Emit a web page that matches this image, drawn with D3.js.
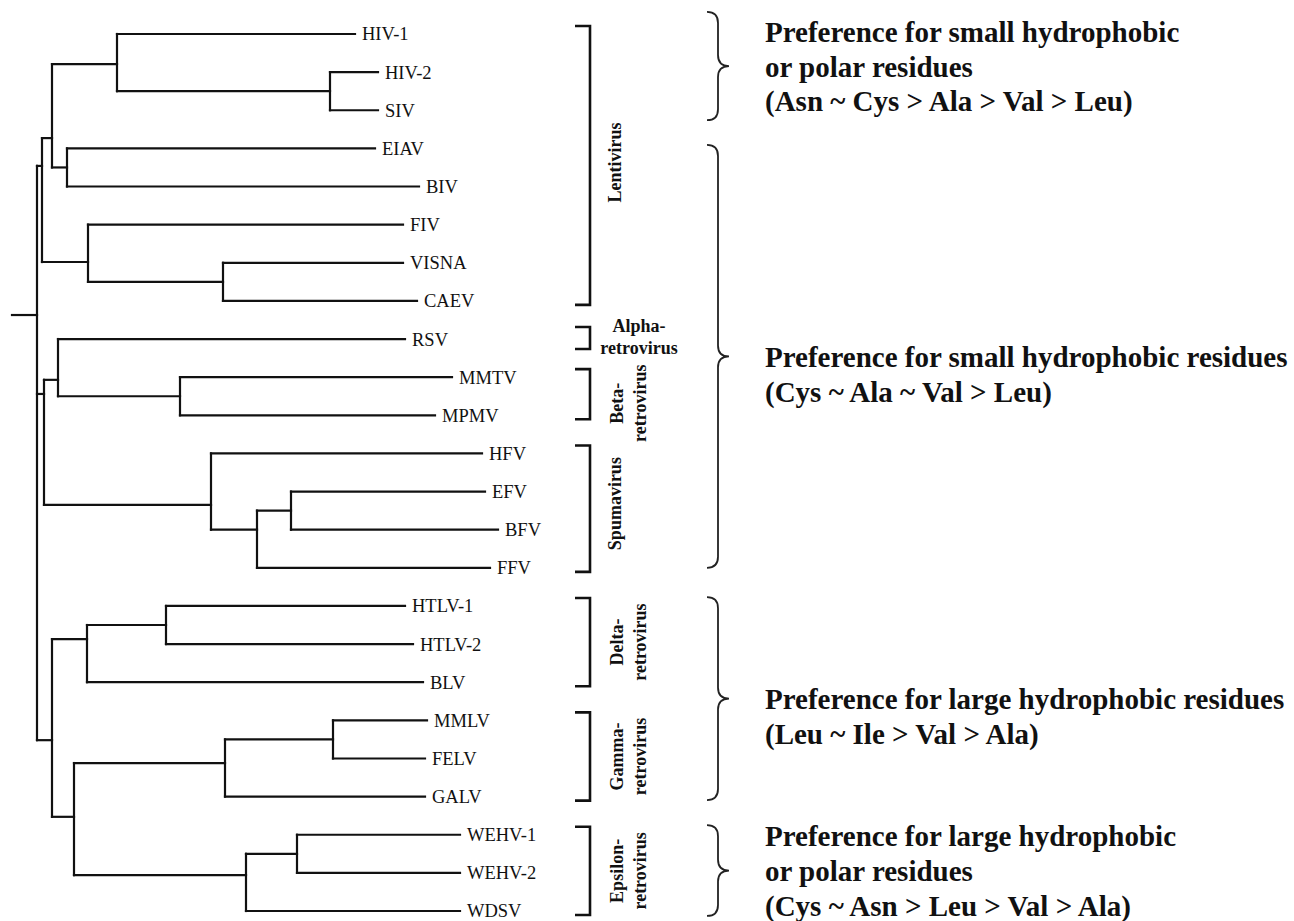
<!DOCTYPE html>
<html>
<head>
<meta charset="utf-8">
<script src="https://cdn.jsdelivr.net/npm/d3@7"></script>
<style>
  body { margin: 0; background: #fff; }
  svg { display: block; }
  .branch { stroke: #111; stroke-width: 2.2; stroke-linecap: square; fill: none; }
  .bracket { stroke: #111; stroke-width: 2.6; fill: none; }
  .brace { stroke: #222; stroke-width: 1.8; fill: none; }
  .leaf { font-family: "Liberation Serif", "Times New Roman", serif; font-size: 18.5px; fill: #111; }
  .clade { font-family: "Liberation Serif", "Times New Roman", serif; font-size: 18px; font-weight: bold; fill: #111; }
  .pref { font-family: "Liberation Serif", "Times New Roman", serif; font-size: 29px; font-weight: bold; fill: #111; }
</style>
</head>
<body>
<svg id="tree"></svg>
<script>
//
// TREE DATA
//

// leaves top to bottom, with tip distance from root
var leafNames = ["HIV-1", "HIV-2", "SIV", "EIAV", "BIV", "FIV", "VISNA", "CAEV",
                 "RSV", "MMTV", "MPMV", "HFV", "EFV", "BFV", "FFV",
                 "HTLV-1", "HTLV-2", "BLV", "MMLV", "FELV", "GALV",
                 "WEHV-1", "WEHV-2", "WDSV"];
var leafParent = ["B", "A", "A", "C", "C", "F", "E", "E",
                  "H", "I", "I", "J", "L", "L", "K",
                  "S", "S", "P", "V", "V", "T",
                  "W", "W", "U"];
var leafDist = [31.8, 34.1, 34.1, 33.8, 38.2, 36.6, 36.6, 38.0,
                36.8, 41.5, 39.8, 44.5, 44.8, 46.1, 45.3,
                36.8, 37.6, 38.6, 39.0, 38.8, 38.8,
                42.3, 42.3, 42.3];

// internal nodes: id, parent, distance from root, row where the stem joins
var nodeIds    = ["root", "G", "D", "B", "A", "C", "F", "E",
                  "M", "H", "I", "J", "K", "L",
                  "N", "P", "S", "Q", "T", "V", "U", "W"];
var nodeParent = [null, "root", "G", "D", "B", "D", "G", "F",
                  "root", "M", "H", "M", "J", "K",
                  "root", "N", "P", "N", "Q", "T", "Q", "U"];
var nodeDist   = [0, 0.5, 1.5, 8.0, 29.3, 3.0, 5.1, 18.6,
                  0.7, 2.1, 14.3, 17.4, 22.0, 25.4,
                  1.5, 5.0, 12.9, 3.7, 18.8, 29.6, 20.9, 26.0];
var nodeRow    = [7.37, 3.46, 2.73, 0.79, 1.5, 3.5, 5.98, 6.5,
                  9.44, 9.07, 9.5, 12.35, 13.0, 12.5,
                  18.52, 15.87, 15.5, 20.53, 19.12, 18.5, 22.06, 21.5];

// genus brackets
var cladeNames = [["Lentivirus"], ["Alpha-", "retrovirus"], ["Beta-", "retrovirus"], ["Spumavirus"],
                  ["Delta-", "retrovirus"], ["Gamma-", "retrovirus"], ["Epsilon-", "retrovirus"]];
var cladeFirst = ["HIV-1", "RSV", "MMTV", "HFV", "HTLV-1", "MMLV", "WEHV-1"];
var cladeLast  = ["CAEV", "RSV", "MPMV", "FFV", "BLV", "GALV", "WDSV"];

// residue preference groups (brace extent in rows)
var prefFrom = [-0.58, 2.91, 14.77, 20.75];
var prefTo   = [2.26, 14.0, 20.09, 23.13];
var prefText = [
  ["Preference for small hydrophobic", "or polar residues", "(Asn ~ Cys > Ala > Val > Leu)"],
  ["Preference for small hydrophobic residues", "(Cys ~ Ala ~ Val > Leu)"],
  ["Preference for large hydrophobic residues", "(Leu ~ Ile > Val > Ala)"],
  ["Preference for large hydrophobic", "or polar residues", "(Cys ~ Asn > Leu > Val > Ala)"]
];

//
// LAYOUT
//
var width = 1294, height = 921;

var svg = d3.select("#tree")
  .attr("width", width)
  .attr("height", height);

var x = d3.scaleLinear().domain([0, 50]).range([37, 537]);
var y = d3.scaleLinear().domain([0, 23]).range([34, 911]);

var table = nodeIds.map(function(id, i) {
  return {id: id, parent: nodeParent[i], dist: nodeDist[i], row: nodeRow[i]};
}).concat(leafNames.map(function(name, i) {
  return {id: name, parent: leafParent[i], dist: leafDist[i], row: i, leaf: true};
}));

var root = d3.stratify()
  .id(function(d) { return d.id; })
  .parentId(function(d) { return d.parent; })(table);

var g = svg.append("g");

// root stub
g.append("line")
  .attr("class", "branch")
  .attr("x1", x(-2.5)).attr("x2", x(0))
  .attr("y1", y(root.data.row)).attr("y2", y(root.data.row));

// vertical connectors
g.selectAll(".vert")
  .data(root.descendants().filter(function(d) { return d.children; }))
  .enter().append("line")
  .attr("class", "branch vert")
  .attr("x1", function(d) { return x(d.data.dist); })
  .attr("x2", function(d) { return x(d.data.dist); })
  .attr("y1", function(d) { return y(d3.min(d.children, function(c) { return c.data.row; })); })
  .attr("y2", function(d) { return y(d3.max(d.children, function(c) { return c.data.row; })); });

// horizontal branches
g.selectAll(".horiz")
  .data(root.descendants().filter(function(d) { return d.parent; }))
  .enter().append("line")
  .attr("class", "branch horiz")
  .attr("x1", function(d) { return x(d.parent.data.dist); })
  .attr("x2", function(d) { return x(d.data.dist); })
  .attr("y1", function(d) { return y(d.data.row); })
  .attr("y2", function(d) { return y(d.data.row); });

// leaf labels
g.selectAll(".leaf")
  .data(root.leaves())
  .enter().append("text")
  .attr("class", "leaf")
  .attr("x", function(d) { return x(d.data.dist) + 7; })
  .attr("y", function(d) { return y(d.data.row); })
  .attr("dy", "0.35em")
  .text(function(d) { return d.id; });

//
// BRACKETS
//
var bx = 590, btick = 15;
var cladeShift = [-3, 0, 9, -5, 0, 0, 0];   // label nudges so Alpha/Beta don't collide
var rowOf = function(name) { return leafNames.indexOf(name); };

var clades = cladeNames.map(function(lines, i) {
  var single = cladeFirst[i] === cladeLast[i];
  return {
    lines: lines,
    top: y(rowOf(cladeFirst[i])) - (single ? 12 : 8),
    bot: y(rowOf(cladeLast[i])) + (single ? 10 : 4),
    flat: single,
    shift: cladeShift[i]
  };
});

var cl = svg.selectAll(".cladeG")
  .data(clades)
  .enter().append("g")
  .attr("class", "cladeG");

cl.append("path")
  .attr("class", "bracket")
  .attr("d", function(d) {
    return "M" + (bx - btick) + "," + d.top + "H" + bx + "V" + d.bot + "H" + (bx - btick);
  });

cl.each(function(d) {
  var sel = d3.select(this);
  var mid = (d.top + d.bot) / 2 + d.shift;
  if (d.flat) {
    d.lines.forEach(function(t, j) {
      sel.append("text")
        .attr("class", "clade")
        .attr("x", 639)
        .attr("y", mid - 12 + j * 22)
        .attr("dy", "0.35em")
        .attr("text-anchor", "middle")
        .text(t);
    });
  } else {
    var n = d.lines.length;
    d.lines.forEach(function(t, j) {
      var cx = n === 1 ? 615 : 617 + j * 23;
      sel.append("text")
        .attr("class", "clade")
        .attr("transform", "translate(" + cx + "," + mid + ") rotate(-90)")
        .attr("dy", "0.35em")
        .attr("text-anchor", "middle")
        .text(t);
    });
  }
});

//
// BRACES + PREFERENCE TEXT
//
var x0 = 707, x1 = 718, xt = 729, r = 11, lh = 34.8;

prefText.forEach(function(lines, i) {
  var y0 = y(prefFrom[i]), y1 = y(prefTo[i]), ym = (y0 + y1) / 2;

  svg.append("path")
    .attr("class", "brace")
    .attr("d", "M" + x0 + "," + y0 +
               "Q" + x1 + "," + y0 + " " + x1 + "," + (y0 + r) +
               "L" + x1 + "," + (ym - r) +
               "Q" + x1 + "," + ym + " " + xt + "," + ym +
               "Q" + x1 + "," + ym + " " + x1 + "," + (ym + r) +
               "L" + x1 + "," + (y1 - r) +
               "Q" + x1 + "," + y1 + " " + x0 + "," + y1);

  var start = ym - Math.floor((lines.length - 1) / 2) * lh + 1;
  svg.append("g").selectAll("text")
    .data(lines)
    .enter().append("text")
    .attr("class", "pref")
    .attr("x", 765)
    .attr("y", function(d, j) { return start + j * lh; })
    .attr("dy", "0.33em")
    .text(function(d) { return d; });
});
</script>
</body>
</html>
